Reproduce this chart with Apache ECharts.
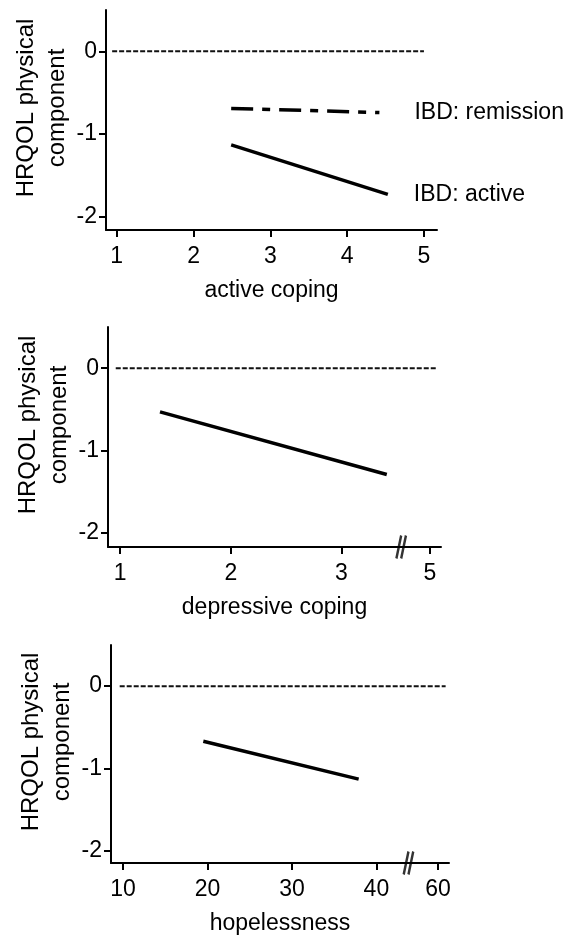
<!DOCTYPE html>
<html>
<head>
<meta charset="utf-8">
<script src="https://cdn.jsdelivr.net/npm/echarts@6/dist/echarts.min.js"></script>
<style>
html,body{margin:0;padding:0;background:#fff;}
#chart{width:570px;height:938px;}
</style>
</head>
<body>
<div id="chart"></div>
<script>
// ---- data ----
const yTicks = [0, -1, -2];
const yLabels = ['0', '-1', '-2'];

// panel 1: active coping
const xTicks1 = [1, 2, 3, 4, 5];
const xLabels1 = ['1', '2', '3', '4', '5'];
const p1Zero = [[0.94, 0], [5.0, 0]];
const p1Remission = [[2.49, -0.69], [4.42, -0.74]];
const p1Active = [[2.49, -1.13], [4.53, -1.73]];

// panel 2: depressive coping (axis break: 5 drawn at 3.8)
const xTicks2 = [1, 2, 3, 3.8];
const xLabels2 = ['1', '2', '3', '5'];
const p2Zero = [[0.96, 0], [3.86, 0]];
const p2Line = [[1.36, -0.53], [3.41, -1.29]];
const breaks2 = [3.54];

// panel 3: hopelessness (axis break: 60 drawn at 47.3)
const xTicks3 = [10, 20, 30, 40, 47.3];
const xLabels3 = ['10', '20', '30', '40', '60'];
const p3Zero = [[9.6, 0], [48.2, 0]];
const p3Line = [[19.5, -0.67], [37.9, -1.13]];
const breaks3 = [43.8];

const xNames = ['active coping', 'depressive coping', 'hopelessness'];
const yName = 'HRQOL physical\ncomponent';
const seriesNames = ['IBD: remission', 'IBD: active'];

// ---- styling / layout ----
const FONT = 'Liberation Sans, Arial, Helvetica, sans-serif';
const FS = 23;
const grids = [
  {left: 106, top: 10, width: 331, height: 220},
  {left: 108, top: 327, width: 333, height: 220},
  {left: 111, top: 645, width: 338, height: 218}
];
const xRanges = [[0.86, 5.17], [0.89, 3.90], [8.57, 48.6]];
const yRanges = [[-2.16, 0.5], [-2.17, 0.5], [-2.15, 0.5]];
const xTickSets = [[xTicks1, xLabels1], [xTicks2, xLabels2], [xTicks3, xLabels3]];

function lookup(ticks, labels) {
  return function (v) {
    const i = ticks.findIndex(t => Math.abs(t - v) < 1e-6);
    return i >= 0 ? labels[i] : '';
  };
}

const axisLine = {show: true, onZero: false, lineStyle: {color: '#000', width: 2}};

const xAxis = grids.map((g, i) => ({
  type: 'value', gridIndex: i,
  min: xRanges[i][0], max: xRanges[i][1],
  axisLine: axisLine,
  splitLine: {show: false},
  axisTick: {show: true, customValues: xTickSets[i][0], length: 7, lineStyle: {color: '#000', width: 2}},
  axisLabel: {customValues: xTickSets[i][0], formatter: lookup(xTickSets[i][0], xTickSets[i][1]),
    color: '#000', fontSize: FS, fontFamily: FONT, margin: 15},
  name: xNames[i], nameLocation: 'middle', nameGap: 49,
  nameTextStyle: {color: '#000', fontSize: FS, fontFamily: FONT}
}));

const yAxis = grids.map((g, i) => ({
  type: 'value', gridIndex: i,
  min: yRanges[i][0], max: yRanges[i][1],
  axisLine: axisLine,
  splitLine: {show: false},
  axisTick: {show: true, customValues: yTicks, length: 7, lineStyle: {color: '#000', width: 2}},
  axisLabel: {customValues: yTicks, formatter: lookup(yTicks, yLabels),
    color: '#000', fontSize: FS, fontFamily: FONT, margin: 9},
  name: yName, nameLocation: 'middle', nameRotate: 90, nameGap: 33,
  nameMoveOverlap: false,
  nameTextStyle: {color: '#000', fontSize: 24, fontFamily: FONT, lineHeight: 31, padding: [0, 0, 0, 24]}
}));

const zeroStyle = {color: '#111', width: 2, type: [5, 2]};
const solidStyle = {color: '#000', width: 3.5};

function zeroSeries(data, i) {
  return {type: 'line', xAxisIndex: i, yAxisIndex: i, data: data, symbol: 'none',
    lineStyle: zeroStyle, silent: true};
}
function breakSeries(xs, i) {
  return {type: 'scatter', xAxisIndex: i, yAxisIndex: i, clip: false,
    data: xs.map(x => [x, yRanges[i][0]]),
    symbol: 'path://M7,0 L0,22 M14,0 L7,22', symbolSize: [15, 23], symbolKeepAspect: true,
    itemStyle: {color: 'none', borderColor: '#000', borderWidth: 3}, silent: true};
}

const endLabel = (dist) => ({show: true, formatter: '{a}', distance: dist, color: '#000',
  fontSize: FS, fontFamily: FONT});

const series = [
  zeroSeries(p1Zero, 0),
  {type: 'line', name: seriesNames[0], xAxisIndex: 0, yAxisIndex: 0, data: p1Remission, symbol: 'none',
    lineStyle: {color: '#000', width: 3.5, type: [22, 9, 8, 9]}, endLabel: endLabel(35)},
  {type: 'line', name: seriesNames[1], xAxisIndex: 0, yAxisIndex: 0, data: p1Active, symbol: 'none',
    lineStyle: solidStyle, endLabel: endLabel(26)},
  zeroSeries(p2Zero, 1),
  {type: 'line', xAxisIndex: 1, yAxisIndex: 1, data: p2Line, symbol: 'none', lineStyle: solidStyle},
  breakSeries(breaks2, 1),
  zeroSeries(p3Zero, 2),
  {type: 'line', xAxisIndex: 2, yAxisIndex: 2, data: p3Line, symbol: 'none', lineStyle: solidStyle},
  breakSeries(breaks3, 2)
];

const chart = echarts.init(document.getElementById('chart'), null, {renderer: 'canvas'});
chart.setOption({
  animation: false,
  backgroundColor: '#fff',
  textStyle: {fontFamily: FONT},
  grid: grids,
  xAxis: xAxis,
  yAxis: yAxis,
  series: series
});
</script>
</body>
</html>
